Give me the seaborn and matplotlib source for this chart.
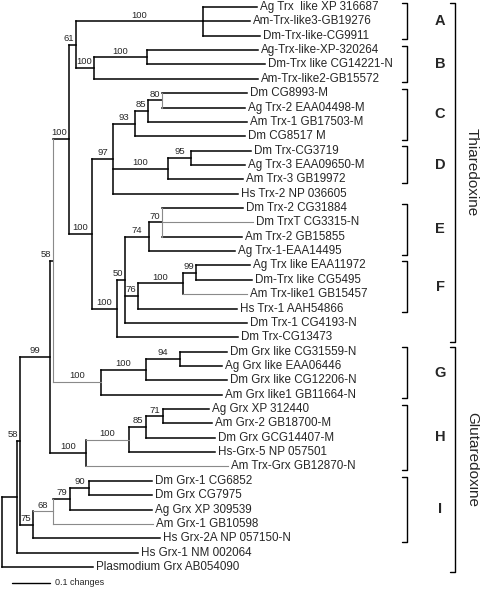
import matplotlib
matplotlib.use("Agg")
import matplotlib.pyplot as plt
import seaborn as sns
import pandas as pd

# leaves, top to bottom, with the depth (changes from root) where each branch ends
leaf_names = [
    "Ag Trx  like XP 316687", "Am-Trx-like3-GB19276", "Dm-Trx-like-CG9911",
    "Ag-Trx-like-XP-320264", "Dm-Trx like CG14221-N", "Am-Trx-like2-GB15572",
    "Dm CG8993-M", "Ag Trx-2 EAA04498-M", "Am Trx-1 GB17503-M", "Dm CG8517 M",
    "Dm Trx-CG3719", "Ag Trx-3 EAA09650-M", "Am Trx-3 GB19972", "Hs Trx-2 NP 036605",
    "Dm Trx-2 CG31884", "Dm TrxT CG3315-N", "Am Trx-2 GB15855", "Ag Trx-1-EAA14495",
    "Ag Trx like EAA11972", "Dm-Trx like CG5495", "Am Trx-like1 GB15457",
    "Hs Trx-1 AAH54866", "Dm Trx-1 CG4193-N", "Dm Trx-CG13473",
    "Dm Grx like CG31559-N", "Ag Grx like EAA06446", "Dm Grx like CG12206-N",
    "Am Grx like1 GB11664-N", "Ag Grx XP 312440", "Am Grx-2 GB18700-M",
    "Dm Grx GCG14407-M", "Hs-Grx-5 NP 057501", "Am Trx-Grx GB12870-N",
    "Dm Grx-1 CG6852", "Dm Grx CG7975", "Ag Grx XP 309539", "Am Grx-1 GB10598",
    "Hs Grx-2A NP 057150-N", "Hs Grx-1 NM 002064", "Plasmodium Grx AB054090",
]
leaf_depth = [
    0.671, 0.653, 0.679, 0.674, 0.692, 0.674, 0.645, 0.639, 0.645, 0.639,
    0.655, 0.639, 0.634, 0.621, 0.634, 0.661, 0.632, 0.613, 0.653, 0.658,
    0.645, 0.618, 0.645, 0.621, 0.592, 0.579, 0.592, 0.579, 0.545, 0.553,
    0.561, 0.561, 0.595, 0.395, 0.395, 0.395, 0.397, 0.416, 0.358, 0.239,
]

# internal nodes: depth, children (int = leaf index, str = node), bootstrap
node_names = ["root", "n1", "n2", "n3", "thio", "ta", "ab", "a", "b", "b1",
              "cdef", "cd", "c", "c1", "c2", "d", "d1", "ef", "ef2", "e", "e1",
              "f", "f1", "f2", "g", "g1", "g2", "gh", "h", "h1", "h2",
              "i", "i1", "i2", "i3"]
node_depth = [0.0, 0.039, 0.047, 0.126, 0.134, 0.176, 0.195, 0.529, 0.242, 0.382,
              0.237, 0.292, 0.350, 0.384, 0.421, 0.437, 0.497, 0.303, 0.324, 0.387, 0.421,
              0.358, 0.476, 0.511, 0.261, 0.379, 0.468, 0.221, 0.334, 0.379, 0.424,
              0.082, 0.134, 0.179, 0.229]
node_children = [["n1", 39], ["n2", 38], ["n3", "i"], ["thio", "gh"], ["ta", "g"],
                 ["ab", "cdef"], ["a", "b"], [0, 1, 2], ["b1", 5], [3, 4],
                 ["cd", "ef"], ["c", "d", 13], ["c1", 9], ["c2", 8], [6, 7],
                 ["d1", 12], [10, 11], ["ef2", 23], ["e", "f", 22], ["e1", 17],
                 [14, 15, 16], ["f1", 21], ["f2", 20], [18, 19],
                 ["g1", 27], ["g2", 26], [24, 25], ["h", 32], ["h1", 31],
                 ["h2", 30], [28, 29], ["i1", 37], ["i2", 36], ["i3", 35], [33, 34]]
node_support = ["", "", "58", "99", "58", "100", "61", "100", "100", "100",
                "100", "97", "93", "85", "80", "100", "95", "100", "50", "74", "70",
                "76", "100", "99", "100", "100", "94", "100", "100", "85", "71",
                "75", "68", "79", "90"]

clade_letters = ["A", "B", "C", "D", "E", "F", "G", "H", "I"]
clade_first = [0, 3, 6, 10, 14, 18, 24, 28, 33]
clade_last = [2, 5, 9, 12, 17, 21, 27, 32, 37]

family_names = ["Thiaredoxine", "Glutaredoxine"]
family_first = [0, 24]
family_last = [23, 39]

# thinner grey branches seen in the figure
grey_stems = {"g", "h", "i1", 36, 20, 15, 32}
grey_verticals = {"thio", "c2", "e1", "i1"}

sns.set_theme(style="white")
plt.rcParams['font.family'] = ['Liberation Sans', 'DejaVu Sans']

depth = dict(zip(node_names, node_depth))
kids = dict(zip(node_names, node_children))
support = dict(zip(node_names, node_support))
ypos = {}
parent = {}


def place(n):
    if isinstance(n, int):
        ypos[n] = n
        return n
    ys = []
    for ch in kids[n]:
        parent[ch] = n
        ys.append(place(ch))
    ypos[n] = (ys[0] + ys[-1]) / 2
    return ypos[n]


place("root")


def get_depth(n):
    return leaf_depth[n] if isinstance(n, int) else depth[n]


# build segment table
rows = []
seg = 0
for n, p in parent.items():
    tone = "grey" if n in grey_stems else "black"
    rows.append((seg, get_depth(p), ypos[n], tone))
    rows.append((seg, get_depth(n), ypos[n], tone))
    seg += 1
for n in node_names:
    tone = "grey" if n in grey_verticals else "black"
    ch = kids[n]
    rows.append((seg, depth[n], ypos[ch[0]], tone))
    rows.append((seg, depth[n], ypos[ch[-1]], tone))
    seg += 1
segs = pd.DataFrame(rows, columns=["seg", "x", "y", "tone"])

fig = plt.figure(figsize=(4.8, 5.92), dpi=100)
ax = fig.add_axes([0, 0, 1, 1])

sns.lineplot(data=segs[segs.tone == "black"], x="x", y="y", units="seg",
             estimator=None, sort=False, color="black", linewidth=1.1,
             solid_capstyle="projecting", legend=False, ax=ax)
sns.lineplot(data=segs[segs.tone == "grey"], x="x", y="y", units="seg",
             estimator=None, sort=False, color="#8a8a8a", linewidth=0.8,
             solid_capstyle="projecting", legend=False, ax=ax)

px = 1 / 380  # one pixel in "changes"

# leaf labels
for i, name in enumerate(leaf_names):
    ax.text(leaf_depth[i] + 3 * px, i, name, fontsize=8.4, va="center", ha="left")

# bootstrap values above the branch leading to each node
for n in node_names:
    s = support[n]
    if not s:
        continue
    p = parent[n]
    half = len(s) * 2.6 * px
    xc = (depth[p] + depth[n]) / 2
    if xc + half > depth[n] - 2 * px:
        xc = depth[n] - 2 * px - half
    ax.text(xc, ypos[n] - 0.12, s, fontsize=6.8, ha="center", va="bottom")

# clade brackets
bx = 1.066
for lab, a, b in zip(clade_letters, clade_first, clade_last):
    y0, y1 = a - 0.3, b + 0.25
    ax.plot([bx - 5 * px, bx, bx, bx - 5 * px], [y0, y0, y1, y1],
            color="black", linewidth=1.0)
    ax.text(1.153, (y0 + y1) / 2, lab, fontsize=10.5, fontweight="bold",
            ha="center", va="center")

fx = 1.192
for lab, a, b in zip(family_names, family_first, family_last):
    y0, y1 = a - 0.3, b + 0.35
    ax.plot([fx - 5 * px, fx, fx, fx - 5 * px], [y0, y0, y1, y1],
            color="black", linewidth=1.0)
    ax.text(1.237, (y0 + y1) / 2, lab, fontsize=11, rotation=-90,
            ha="center", va="center")

# scale bar
ax.plot([0.0263, 0.1263], [40.1, 40.1], color="black", linewidth=1.0)
ax.text(0.139, 40.1, "0.1 changes", fontsize=6.5, va="center", ha="left")

ax.set_xlim(-2 * px, 478 * px)
ax.set_ylim(40.74, -0.487)
ax.set_axis_off()

fig.savefig("out.png", dpi=100)
